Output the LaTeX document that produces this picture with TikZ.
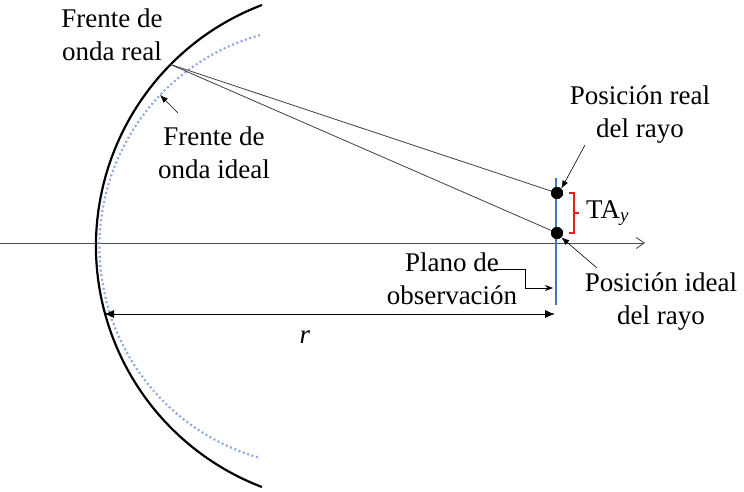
\documentclass[tikz,border=0pt]{standalone}
\usepackage{fontspec}
\newfontfamily\timesfont{Liberation Serif}
\usetikzlibrary{arrows.meta,positioning,calc}
\definecolor{planeblue}{RGB}{68,114,196}
\definecolor{idealblue}{RGB}{142,170,222}
\definecolor{bracketred}{RGB}{235,30,30}
\tikzset{
  labeltext/.style={align=center, inner sep=0pt, font=\timesfont\fontsize{27}{33}\selectfont},
  pointer/.style={-{Latex[length=8pt,width=6pt]}, line width=0.6pt},
  ray/.style={draw=black!75, line width=0.8pt},
  raydot/.style={circle, fill=black, minimum size=12pt, inner sep=0pt},
}

\begin{document}
\begin{tikzpicture}[x=1pt,y=1pt]
        \useasboundingbox (0,0) rectangle (744,491);
        % optical axis
        \coordinate (axisL) at (0,248);
        \coordinate (axisR) at (645,248);
        \draw[black!70, line width=0.9pt, -{Straight Barb[length=8pt,width=11pt]}] (axisL) -- (axisR);

        % wavefronts
        \coordinate (realC) at (354,245);
        \coordinate (idealC) at (319,244.5);
        \draw[idealblue, line width=2.2pt, dash pattern=on 2pt off 2.6pt]
          ($(idealC)+(105.6:219.5pt)$) arc[start angle=105.6, end angle=254.4, radius=219.5pt];
        \draw[black, line width=2.2pt]
          ($(realC)+(110.9:258pt)$) arc[start angle=110.9, end angle=249.1, radius=258pt];
        \coordinate (src) at ($(realC)+(135.3:258pt)$);

        % observation plane
        \coordinate (planeTop) at (556,313);
        \coordinate (planeBot) at (556,186);
        \draw[planeblue, line width=1.3pt] (planeTop) -- (planeBot);

        % rays and their hits
        \node[raydot] (hitReal) at (557,298) {};
        \node[raydot] (hitIdeal) at (557,258) {};
        \draw[ray] (src) -- (hitReal.center);
        \draw[ray] (src) -- (hitIdeal.center);
        \node[raydot] at (hitReal) {};
        \node[raydot] at (hitIdeal) {};

        % transverse aberration
        \draw[bracketred, line width=1.1pt] (569,298) -- (574,298) -- (574,258) -- (569,258)
          (574,278) -- (579,278);
        \coordinate (brace) at (579,278);
        \node[labeltext, right=7pt of brace] (ta) {TA\textsubscript{\textit{y}}};

        % distance r
        \coordinate (rL) at (104,177);
        \coordinate (rR) at (555,177);
        \draw[{Latex[length=10pt,width=8pt]}-{Latex[length=10pt,width=8pt]}, line width=0.9pt] (rL) -- (rR);
        \node[labeltext] (rlab) at (305,154) {\textit{r}};

        % labels
        \node[labeltext] (realFront) at (112,456) {Frente de\\onda real};
        \node[labeltext] (idealFront) at (214,338) {Frente de\\onda ideal};
        \node[labeltext] (realPos) at (640,376) {Posición real\\del rayo};
        \node[labeltext] (idealPos) at (661,189) {Posición ideal\\del rayo};
        \node[labeltext] (plane) at (452,212) {Plano de\\observación};

        \coordinate (idealTip) at (160,396);
        \draw[pointer] (178,378) -- (idealTip);
        \draw[pointer] (585,346) -- (hitReal.north east);
        \draw[pointer] (597,223) -- (hitIdeal.south east);
        \draw[pointer, -{Stealth[length=8pt,width=6pt]}] (494,222) -| (525,203) -- (553,203);
      \end{tikzpicture}
\end{document}
